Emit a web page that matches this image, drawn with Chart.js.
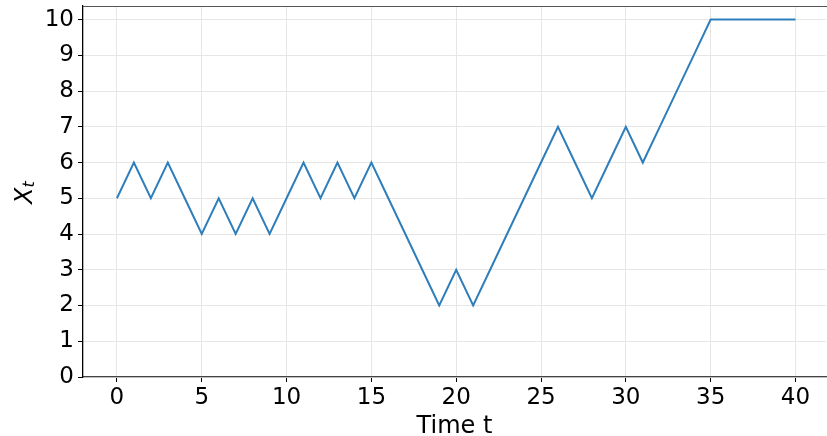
<!DOCTYPE html>
<html>
<head>
<meta charset="UTF-8">
<script src="https://cdn.jsdelivr.net/npm/chart.js"></script>
<style>
  html, body { margin: 0; padding: 0; background: #fff; overflow: hidden; }
  #wrap { width: 827px; height: 436px; }
</style>
</head>
<body>
<div id="wrap"><canvas id="walk"></canvas></div>
<script>
// random walk values, t = 0..40
const times = [0,1,2,3,4,5,6,7,8,9,10,11,12,13,14,15,16,17,18,19,20,
               21,22,23,24,25,26,27,28,29,30,31,32,33,34,35,36,37,38,39,40];
const walk  = [5,6,5,6,5,4,5,4,5,4,5,6,5,6,5,6,5,4,3,2,3,
               2,3,4,5,6,7,6,5,6,7,6,7,8,9,10,10,10,10,10,10];
const xTicks = [0,5,10,15,20,25,30,35,40];
const yTicks = [0,1,2,3,4,5,6,7,8,9,10];

const FONT = 'DejaVu Sans';

// top spine + the italic X_t label on the y axis
const extras = {
  id: 'extras',
  afterDraw(chart) {
    const ctx = chart.ctx;
    const a = chart.chartArea;
    ctx.save();
    ctx.strokeStyle = '#555';
    ctx.lineWidth = 1;
    ctx.beginPath();
    ctx.moveTo(a.left, a.top + 0.5);
    ctx.lineTo(chart.width, a.top + 0.5);
    ctx.stroke();

    ctx.translate(32, 204);
    ctx.rotate(-Math.PI / 2);
    ctx.fillStyle = '#000';
    ctx.textBaseline = 'alphabetic';
    ctx.font = 'italic 24px ' + FONT;
    ctx.fillText('X', 0, 0);
    const w = ctx.measureText('X').width;
    ctx.font = 'italic 16px ' + FONT;
    ctx.fillText('t', w, 2);
    ctx.restore();
  }
};

new Chart(document.getElementById('walk'), {
  type: 'line',
  data: {
    datasets: [{
      data: times.map((t, i) => ({ x: t, y: walk[i] })),
      borderColor: '#2e7ebc',
      borderWidth: 2,
      pointRadius: 0,
      tension: 0,
      fill: false
    }]
  },
  options: {
    responsive: true,
    maintainAspectRatio: false,
    animation: false,
    events: [],
    layout: { padding: { top: 6, right: 1, left: 0, bottom: 0 } },
    plugins: { legend: { display: false }, tooltip: { enabled: false } },
    scales: {
      x: {
        type: 'linear',
        min: -2,
        max: 41.8,
        afterBuildTicks: s => { s.ticks = xTicks.map(v => ({ value: v })); },
        afterFit: s => { s.height = 59; s.paddingLeft = 0; s.paddingRight = 0; },
        grid: { color: '#e6e6e6', tickColor: '#000', tickLength: 5, lineWidth: 1 },
        border: { color: '#444', width: 1.3 },
        ticks: { color: '#000', font: { family: FONT, size: 23 }, padding: 2, maxRotation: 0 },
        title: { display: true, text: 'Time t', color: '#000',
                 font: { family: FONT, size: 24, lineHeight: 0.75 }, padding: { top: 0, bottom: 0 } }
      },
      y: {
        min: 0,
        max: 10.38,
        afterBuildTicks: s => { s.ticks = yTicks.map(v => ({ value: v })); },
        afterFit: s => { s.width = 83; s.paddingTop = 0; s.paddingBottom = 0; },
        grid: { color: '#e6e6e6', tickColor: '#000', tickLength: 5, lineWidth: 1 },
        border: { color: '#000', width: 1.3 },
        ticks: { color: '#000', font: { family: FONT, size: 23 }, padding: 4 }
      }
    }
  },
  plugins: [extras]
});
</script>
</body>
</html>
